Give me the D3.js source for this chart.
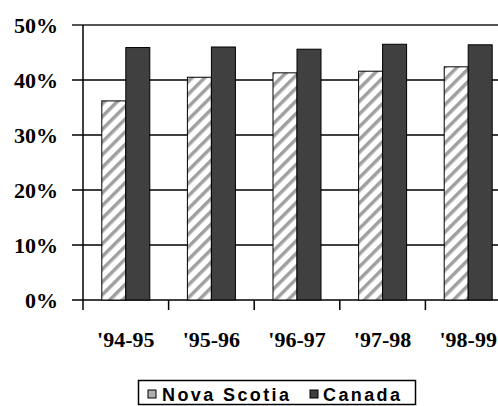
<!DOCTYPE html>
<html><head><meta charset="utf-8">
<script src="https://cdn.jsdelivr.net/npm/d3@7"></script>
<style>body{margin:0;background:#fff;overflow:hidden}</style>
</head><body>
<svg id="c" width="498" height="406"></svg>
<script>
const categories = ["'94-95","'95-96","'96-97","'97-98","'98-99"];
const seriesNames = ["Nova Scotia","Canada"];
const novaScotia = [36.2, 40.5, 41.3, 41.6, 42.4];
const canada = [45.9, 46.0, 45.6, 46.5, 46.4];
const yTicks = [0,10,20,30,40,50];

const svg = d3.select("#c");
const defs = svg.append("defs");
const pat = defs.append("pattern").attr("id","hatch").attr("patternUnits","userSpaceOnUse")
  .attr("width",9).attr("height",9).attr("patternTransform","rotate(45)");
pat.append("rect").attr("width",9).attr("height",9).attr("fill","#fff");
pat.append("rect").attr("x",0).attr("y",0).attr("width",3.5).attr("height",9).attr("fill","#a0a0a0");

const x = d3.scaleBand().domain(categories).range([83, 511]).padding(0);
const xs = d3.scaleBand().domain(seriesNames).range([18.8, 18.8+48]);
const y = d3.scaleLinear().domain([0,50]).range([300,25]);

svg.append("g").selectAll("line").data(yTicks).join("line")
  .attr("x1",72).attr("x2",498).attr("y1",d=>y(d)).attr("y2",d=>y(d))
  .attr("stroke",d=>d===50?"#555":"#000").attr("stroke-width",d=>d===50?2:1.5);

svg.append("line").attr("x1",83).attr("x2",83).attr("y1",y(50)).attr("y2",310)
  .attr("stroke","#000").attr("stroke-width",1.5);
svg.append("g").selectAll("line").data(categories.slice(1)).join("line")
  .attr("x1",d=>x(d)).attr("x2",d=>x(d)).attr("y1",300).attr("y2",310)
  .attr("stroke","#000").attr("stroke-width",1.5);

const data = [novaScotia, canada];
const fills = ["url(#hatch)","#404040"];
seriesNames.forEach((s,si)=>{
  svg.append("g").selectAll("rect").data(categories).join("rect")
    .attr("x",c=>x(c)+xs(s)).attr("width",xs.bandwidth())
    .attr("y",(c,i)=>y(data[si][i])).attr("height",(c,i)=>y(0)-y(data[si][i]))
    .attr("fill",fills[si]).attr("stroke","#000").attr("stroke-width",1);
});

svg.append("g").selectAll("text").data(yTicks).join("text")
  .attr("x",58).attr("y",d=>y(d)).attr("dy","0.35em").attr("text-anchor","end")
  .attr("font-family","Liberation Serif, Times New Roman, serif").attr("font-weight","bold")
  .attr("font-size",22).text(d=>d+"%");

svg.append("g").selectAll("text").data(categories).join("text")
  .attr("x",c=>x(c)+x.bandwidth()/2).attr("y",347).attr("text-anchor","middle")
  .attr("font-family","Liberation Serif, Times New Roman, serif").attr("font-weight","bold")
  .attr("font-size",22).text(d=>d);

const lg = svg.append("g");
lg.append("rect").attr("x",138.5).attr("y",380.5).attr("width",277).attr("height",24)
  .attr("fill","#fff").attr("stroke","#000").attr("stroke-width",1.5);
const legX = [148, 310];
const legTX = [162, 323];
seriesNames.forEach((s,i)=>{
  lg.append("rect").attr("x",legX[i]).attr("y",390).attr("width",8).attr("height",8)
    .attr("fill",i===0?"#b0b0b0":"#404040").attr("stroke","#000").attr("stroke-width",1);
  lg.append("text").attr("x",legTX[i]).attr("y",401)
    .attr("font-family","Liberation Sans, Arial, sans-serif").attr("font-weight","bold")
    .attr("font-size",18).attr("letter-spacing",2.4).text(s);
});
</script>
</body></html>
